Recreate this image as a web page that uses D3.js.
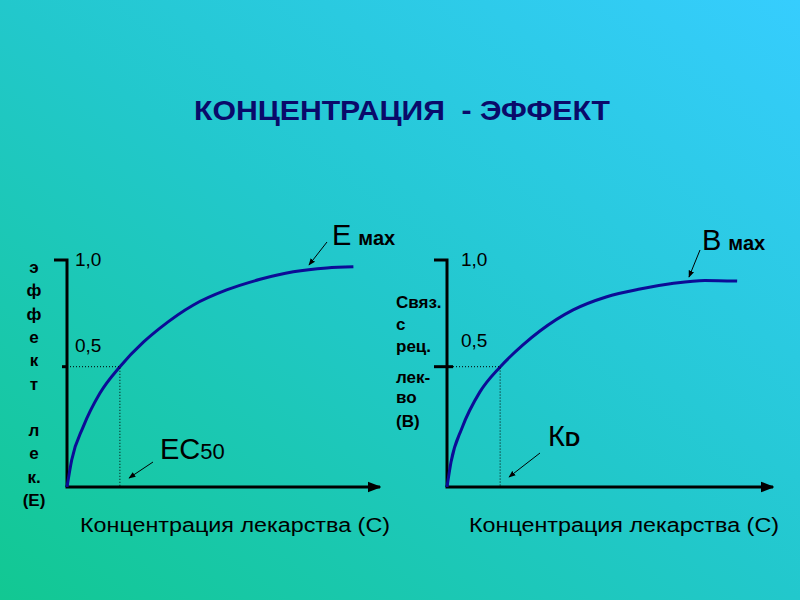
<!DOCTYPE html>
<meta charset="utf-8">
<style>
body { margin: 0; }
svg { display: block; font-family: "Liberation Sans", Arial, sans-serif; }
.axis-line { stroke: #000; stroke-width: 3; fill: none; }
.guide { stroke: #000; stroke-width: 1; stroke-dasharray: 1,2; fill: none; }
.curve { stroke: #0c0c96; stroke-width: 3; fill: none; }
.tick-label { font-size: 19px; fill: #000; }
.ylab { font-size: 17px; font-weight: bold; fill: #000; }
.xlab { font-size: 20px; fill: #000; font-family: "Liberation Sans Narrow", "Liberation Sans", Arial, sans-serif; }
.ann-big { font-size: 29px; fill: #000; }
.ann-small { font-size: 20px; font-weight: bold; fill: #000; }
</style>
<svg width="800" height="600"></svg>
<script src="https://cdn.jsdelivr.net/npm/d3@7"></script>
<script>

// data (concentration in arbitrary units 0..100, effect 0..1)
var leftConc   = [0, 1.5, 5.2, 10.5, 16.9, 24.4, 29.7, 40.4, 51.0, 61.7, 72.3, 83.0, 91.5];
var leftEffect = [0, 0.119, 0.266, 0.413, 0.530, 0.638, 0.700, 0.802, 0.868, 0.915, 0.948, 0.965, 0.970];
var rightConc   = [0, 1.23, 4.6, 10.1, 16.3, 23.3, 28.5, 38.7, 48.8, 59.2, 69.0, 79.1, 89.0];
var rightEffect = [0, 0.110, 0.260, 0.419, 0.529, 0.626, 0.687, 0.780, 0.837, 0.872, 0.896, 0.910, 0.907];
var tickValues = [1.0, 0.5];
var tickLabels = ["1,0", "0,5"];
var halfLevel = 0.53;
var halfIndex = 4;

var leftYLabel = ["э", "ф", "ф", "е", "к", "т", "", "л", "е", "к.", "(Е)"];
var rightYLabel = ["Связ.", "с", "рец.", "", "лек-", "во", "(В)"];
var xLabel = "Концентрация лекарства (С)";
var title = "КОНЦЕНТРАЦИЯ  - ЭФФЕКТ";

var svg = d3.select("svg");
var defs = svg.append("defs");

var grad = defs.append("linearGradient")
    .attr("id", "bg")
    .attr("x1", 0).attr("y1", 1).attr("x2", 1).attr("y2", 0);
grad.append("stop").attr("offset", "0%").attr("stop-color", "#12c892");
grad.append("stop").attr("offset", "50%").attr("stop-color", "#22c8cc");
grad.append("stop").attr("offset", "100%").attr("stop-color", "#36cdfe");

svg.append("rect").attr("width", 800).attr("height", 600).attr("fill", "url(#bg)");

defs.append("marker")
    .attr("id", "axisArrow")
    .attr("viewBox", "0 0 10 10")
    .attr("refX", 9).attr("refY", 5)
    .attr("markerWidth", 4.5).attr("markerHeight", 4.5)
    .attr("markerUnits", "strokeWidth")
    .attr("orient", "auto")
  .append("path").attr("d", "M0,1 L10,5 L0,9 Z").attr("fill", "#000");

defs.append("marker")
    .attr("id", "pointer")
    .attr("viewBox", "0 0 10 10")
    .attr("refX", 9).attr("refY", 5)
    .attr("markerWidth", 7).attr("markerHeight", 7)
    .attr("orient", "auto")
  .append("path").attr("d", "M0,1 L10,5 L0,9 Z").attr("fill", "#000");

svg.append("text")
    .attr("x", 402).attr("y", 120)
    .attr("text-anchor", "middle")
    .attr("font-size", 28).attr("font-weight", "bold")
    .attr("fill", "#0a0a6a")
    .attr("textLength", 416).attr("lengthAdjust", "spacingAndGlyphs")
    .attr("xml:space", "preserve")
    .text(title);

function drawPanel(opt) {
  var x = d3.scaleLinear().domain([0, 100]).range([opt.x0, opt.x1]);
  var y = d3.scaleLinear().domain([0, 1]).range([487, 260]);
  var g = svg.append("g");

  // axes
  g.append("path").attr("class", "axis-line")
      .attr("d", "M" + (x(0) - 13) + "," + y(1) + "H" + x(0) + "V" + y(0));
  g.append("line").attr("class", "axis-line")
      .attr("x1", x(0) - 1.5).attr("y1", y(0)).attr("x2", opt.x1).attr("y2", y(0))
      .attr("marker-end", "url(#axisArrow)");
  g.append("line").attr("class", "axis-line")
      .attr("x1", x(0) - opt.halfTickL).attr("x2", x(0) + opt.halfTickR)
      .attr("y1", y(halfLevel)).attr("y2", y(halfLevel));

  g.selectAll(".tick-label").data(tickValues).enter().append("text")
      .attr("class", "tick-label")
      .attr("x", x(0) + opt.labelDx)
      .attr("y", function(d, i) { return i === 0 ? 266 : opt.halfLabelY; })
      .text(function(d, i) { return tickLabels[i]; });

  // curve
  var pts = opt.conc.map(function(c, i) { return [x(c), y(opt.eff[i])]; });
  g.append("path").attr("class", "curve")
      .attr("d", d3.line().curve(d3.curveMonotoneX)(pts));

  // half-effect guide lines
  var cHalf = opt.conc[halfIndex];
  g.append("path").attr("class", "guide")
      .attr("d", "M" + x(0) + "," + y(halfLevel) + "H" + x(cHalf) + "V" + y(0));

  // x label
  g.append("text").attr("class", "xlab")
      .attr("x", opt.xlabX).attr("y", 532)
      .attr("text-anchor", "middle")
      .attr("textLength", 310).attr("lengthAdjust", "spacingAndGlyphs")
      .text(xLabel);

  // annotations
  var top = g.append("text").attr("x", opt.topX).attr("y", opt.topY);
  top.append("tspan").attr("class", "ann-big").text(opt.topBig);
  top.append("tspan").attr("class", "ann-small").attr("dx", 7).text("мах");
  g.append("line").attr("stroke", "#000").attr("stroke-width", 1)
      .attr("x1", opt.topArrow[0]).attr("y1", opt.topArrow[1])
      .attr("x2", opt.topArrow[2]).attr("y2", opt.topArrow[3])
      .attr("marker-end", "url(#pointer)");

  var bot = g.append("text").attr("x", opt.botX).attr("y", opt.botY);
  bot.append("tspan").attr("class", "ann-big").text(opt.botBig);
  bot.append("tspan").attr("font-size", opt.botSubSize).attr("font-weight", opt.botSubWeight)
      .text(opt.botSub);
  g.append("line").attr("stroke", "#000").attr("stroke-width", 1)
      .attr("x1", opt.botArrow[0]).attr("y1", opt.botArrow[1])
      .attr("x2", opt.botArrow[2]).attr("y2", opt.botArrow[3])
      .attr("marker-end", "url(#pointer)");
}

drawPanel({
  x0: 67, x1: 380, conc: leftConc, eff: leftEffect,
  halfTickL: 5, halfTickR: 0, labelDx: 8, halfLabelY: 352, xlabX: 235,
  topBig: "Е", topX: 332, topY: 245, topArrow: [327, 242, 309, 265],
  botBig: "ЕС", botSub: "50", botSubSize: 22, botSubWeight: "normal",
  botX: 160, botY: 459, botArrow: [153, 462, 129, 478]
});

drawPanel({
  x0: 447, x1: 773, conc: rightConc, eff: rightEffect,
  halfTickL: 13, halfTickR: 6, labelDx: 14, halfLabelY: 347, xlabX: 624,
  topBig: "В", topX: 702, topY: 250, topArrow: [700, 250, 689, 277],
  botBig: "К", botSub: "D", botSubSize: 21, botSubWeight: "bold",
  botX: 548, botY: 446, botArrow: [540, 453, 509, 477]
});

// y labels
var leftY0 = 273;
svg.selectAll(".ylab-left").data(leftYLabel).enter().append("text")
    .attr("class", "ylab")
    .attr("x", 34)
    .attr("y", function(d, i) { return leftY0 + i * 23.3; })
    .attr("text-anchor", "middle")
    .text(function(d) { return d; });

svg.selectAll(".ylab-right").data(rightYLabel).enter().append("text")
    .attr("class", "ylab")
    .attr("font-size", 14)
    .attr("x", 396)
    .attr("y", function(d, i) { return [308, 330, 352, 0, 383, 403, 427][i]; })
    .text(function(d) { return d; });

</script>
